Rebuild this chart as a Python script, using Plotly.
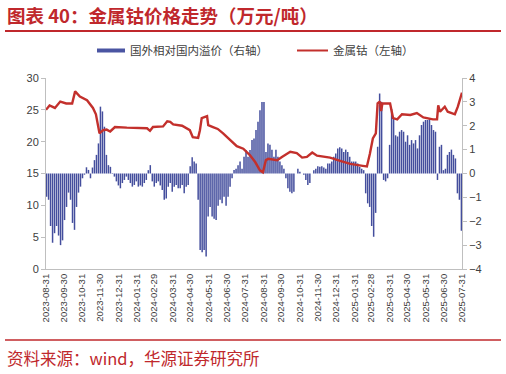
import pandas as pd
import plotly.graph_objects as go

# ---------------- data ----------------
tick_labels = ["2023-08-31", "2023-09-30", "2023-10-31", "2023-11-30", "2023-12-31",
               "2024-01-31", "2024-02-29", "2024-03-31", "2024-04-30", "2024-05-31",
               "2024-06-30", "2024-07-31", "2024-08-31", "2024-09-30", "2024-10-31",
               "2024-11-30", "2024-12-31", "2025-01-31", "2025-02-28", "2025-03-31",
               "2025-04-30", "2025-05-31", "2025-06-30", "2025-07-31"]

# 国外相对国内溢价（右轴）
premium = [
    -0.97, -1.1, -2.2, -2.9, -2.5,
    -2.2, -2.6, -3.0, -2.8, -1.95,
    -1.4, -0.8, -1.1, -2.07, -2.36,
    -1.4, -0.8, -0.55, -0.2, -0.05,
    0.26, 0.15, -0.2, 0.25, 0.56,
    0.78, 1.26, 2.8, 2.6, 1.96,
    0.78, 0.35, 0.28, 0.02, -0.13,
    -0.33, -0.5, -0.62, -0.4, -0.27,
    -0.13, -0.27, -0.4, -0.55, -0.48,
    -0.33, -0.55, -0.5, -0.55, -0.4,
    -0.27, 0.14, 0.35, -0.33, -0.55,
    -0.4, -0.33, -0.5, -0.69, -1.1,
    -1.05, -0.55, -0.4, -0.76, -0.55,
    -0.48, -0.62, -0.62, -0.48, -0.83,
    -0.55, -0.48, 0.3, 0.68, 0.5,
    0.42, -1.1, -3.2, -3.3, -3.2,
    -3.48, -1.8, -1.4, -1.8, -1.9,
    -1.95, -1.35, -1.1, -1.25, -0.97,
    -1.35, -0.97, -0.55, -0.2, 0.15,
    0.2, 0.35, 0.5, 0.2, 0.7,
    0.98, 0.7, 0.98, 1.4, 1.47,
    1.82, 2.17, 2.65, 3.0, 3.0,
    0.9, 1.26, 1.2, 1.0, 0.7,
    1.0, 0.7, 0.5, 0.35, 0.2,
    -0.2, -0.62, -0.76, -0.83, -0.76,
    0.0, 0.2, 0.07, 0.0, -0.05,
    -0.27, -0.48, -0.4, 0.0, 0.14,
    0.2, 0.3, 0.28, 0.3, 0.25,
    0.2, 0.42, 0.42, 0.5, 0.7,
    0.84, 1.05, 1.1, 1.05, 0.9,
    1.0, 0.9, 0.7, 0.5, 0.5,
    0.5, 0.42, 0.28, 0.2, 0.14,
    -0.83, -1.25, -1.4, -2.2, -2.65,
    -1.65, 1.12, 3.35, 3.0, -0.27,
    -0.33, -0.2, 1.2, 2.7, 2.3,
    1.6, 1.55, 1.75, 1.82, 1.75,
    1.33, 1.6, 1.2, 1.4, 1.26,
    1.4, 1.05, 1.6, 2.03, 2.17,
    2.24, 2.24, 2.3, 2.03, 1.82,
    1.75, -0.27, 1.12, 1.2, 0.14,
    0.2, 0.78, 0.9, 1.0, 0.78,
    0.63, -0.83, -1.1, -2.4,
]
premium_dates = pd.date_range("2023-09-01", "2025-07-30", periods=len(premium))

# 金属钴（左轴）
cobalt_dates = [
    "2023-08-31", "2023-09-06", "2023-09-15", "2023-09-24", "2023-10-04", "2023-10-14",
    "2023-10-19", "2023-10-27", "2023-11-08", "2023-11-18", "2023-11-23", "2023-11-26",
    "2023-11-29", "2023-12-05", "2023-12-11", "2023-12-17", "2023-12-25", "2024-01-14",
    "2024-02-17", "2024-02-22", "2024-02-27", "2024-03-15", "2024-03-22", "2024-03-27",
    "2024-04-01", "2024-04-16", "2024-04-29", "2024-05-04", "2024-05-13", "2024-05-16",
    "2024-05-19", "2024-05-28", "2024-05-30", "2024-06-07", "2024-06-15", "2024-06-24",
    "2024-07-06", "2024-07-17", "2024-07-28", "2024-08-08", "2024-08-17", "2024-08-25",
    "2024-08-30", "2024-09-04", "2024-09-08", "2024-09-23", "2024-10-01", "2024-10-15",
    "2024-10-26", "2024-11-04", "2024-11-12", "2024-11-21", "2024-11-29", "2024-12-21",
    "2025-01-07", "2025-01-24", "2025-02-14", "2025-02-21", "2025-02-26", "2025-03-03",
    "2025-03-08", "2025-03-11", "2025-03-15", "2025-03-17", "2025-03-19", "2025-03-21",
    "2025-04-01", "2025-04-06", "2025-04-13", "2025-04-21", "2025-05-05", "2025-05-16",
    "2025-05-27", "2025-06-12", "2025-06-19", "2025-06-21", "2025-06-24", "2025-07-02",
    "2025-07-07", "2025-07-19", "2025-07-24", "2025-07-31",
]
cobalt = [
    25.0, 25.7, 25.3, 26.3, 26.0, 26.0,
    27.9, 27.1, 26.5, 25.3, 24.3, 23.0,
    21.3, 21.8, 21.9, 21.6, 22.3, 22.2,
    22.1, 21.7, 22.3, 22.4, 23.2, 23.1,
    22.7, 22.5, 21.8, 20.7, 20.6, 21.8,
    23.7, 24.0, 22.6, 22.3, 22.0, 21.3,
    20.3, 19.3, 18.9, 17.9, 16.8, 15.5,
    15.2, 17.1, 17.3, 17.1, 17.6, 18.4,
    18.2, 17.5, 17.6, 18.3, 17.8, 17.5,
    17.0, 16.5, 16.2, 16.1, 18.1, 20.5,
    21.3, 26.0, 26.3, 24.8, 26.0, 26.0,
    26.0, 23.7, 23.5, 24.3, 24.2, 24.5,
    23.8, 23.5, 23.5, 25.7, 24.7, 25.5,
    24.7, 24.3, 25.5, 27.7,
]

left_ticks = [0, 5, 10, 15, 20, 25, 30]
right_ticks = [-4, -3, -2, -1, 0, 1, 2, 3, 4]

# ---------------- style ----------------
BLUE = "rgba(66,76,156,0.99)"
BLUE_LEG = "#4A55A2"
RED = "#C3302C"
TITLE_RED = "#C0282C"
GREY_TXT = "#404040"
AX = "#BFBFBF"
CJK = "Noto Sans CJK SC"
NUM = "Liberation Sans, Arial, sans-serif"

W, H = 506, 374
L, R, T, B = 46, 462, 78, 269  # plot area in pixels


def px(x):
    return (x - L) / (R - L)


def py(y):
    return (B - y) / (B - T)


fig = go.Figure()

fig.add_trace(go.Bar(
    x=premium_dates, y=premium, yaxis="y",
    marker=dict(color=BLUE, line=dict(width=0)),
    name="国外相对国内溢价（右轴）", showlegend=False,
))
fig.add_trace(go.Scatter(
    x=pd.to_datetime(cobalt_dates), y=cobalt, yaxis="y2", mode="lines",
    line=dict(color=RED, width=2.4),
    name="金属钴（左轴）", showlegend=False,
))

fig.update_layout(
    width=W, height=H,
    margin=dict(l=L, r=W - R, t=T, b=H - B),
    paper_bgcolor="white", plot_bgcolor="white",
    bargap=0.25,
    xaxis=dict(
        type="date",
        range=["2023-08-31", "2025-07-31"],
        tickvals=tick_labels, ticktext=tick_labels,
        tickangle=-90,
        tickfont=dict(family=NUM, size=9.5, color=GREY_TXT),
        showline=True, linecolor=AX, linewidth=1,
        ticks="", showgrid=False, zeroline=False,
    ),
    yaxis=dict(
        side="right", range=[-4, 4],
        tickvals=right_ticks,
        tickfont=dict(family=NUM, size=11, color=GREY_TXT),
        showline=True, linecolor=AX, linewidth=1,
        ticks="outside", ticklen=4, tickcolor=AX,
        showgrid=False, zeroline=False,
    ),
    yaxis2=dict(
        overlaying="y", side="left", range=[0, 30],
        tickvals=left_ticks,
        tickfont=dict(family=NUM, size=11, color=GREY_TXT),
        showline=True, linecolor=AX, linewidth=1,
        ticks="outside", ticklen=4, tickcolor=AX,
        showgrid=False, zeroline=False,
    ),
)

shapes = []
annos = []

# title + underline
annos.append(dict(text="<b>图表 40：金属钴价格走势（万元/吨）</b>", xref="paper", yref="paper",
                  x=px(5), y=py(15), xanchor="left", yanchor="middle", showarrow=False,
                  font=dict(family=CJK, size=18.5, color=TITLE_RED)))
shapes.append(dict(type="line", xref="paper", yref="paper", x0=px(5), x1=px(501),
                   y0=py(31), y1=py(31), line=dict(color=TITLE_RED, width=2)))

# legend
shapes.append(dict(type="rect", xref="paper", yref="paper", x0=px(97), x1=px(125),
                   y0=py(48.5), y1=py(52.5), fillcolor=BLUE_LEG, line=dict(width=0)))
annos.append(dict(text="国外相对国内溢价（右轴）", xref="paper", yref="paper",
                  x=px(128), y=py(50.5), xanchor="left", yanchor="middle", showarrow=False,
                  font=dict(family=CJK, size=11.5, color=GREY_TXT)))
shapes.append(dict(type="line", xref="paper", yref="paper", x0=px(297), x1=px(328),
                   y0=py(50.5), y1=py(50.5), line=dict(color=RED, width=2)))
annos.append(dict(text="金属钴（左轴）", xref="paper", yref="paper",
                  x=px(331), y=py(50.5), xanchor="left", yanchor="middle", showarrow=False,
                  font=dict(family=CJK, size=11.5, color=GREY_TXT)))

# bottom rule + source
shapes.append(dict(type="line", xref="paper", yref="paper", x0=px(5), x1=px(501),
                   y0=py(340), y1=py(340), line=dict(color=TITLE_RED, width=1.5)))
annos.append(dict(text="资料来源：wind，华源证券研究所", xref="paper", yref="paper",
                  x=px(5), y=py(358), xanchor="left", yanchor="middle", showarrow=False,
                  font=dict(family=CJK, size=16.5, color=TITLE_RED)))

fig.update_layout(shapes=shapes, annotations=annos)

# remove the browser's default 8px body margin so the figure sits at the window origin
fig.write_html("out.html", config={"displayModeBar": False},
               post_script="document.body.style.margin='0';")
